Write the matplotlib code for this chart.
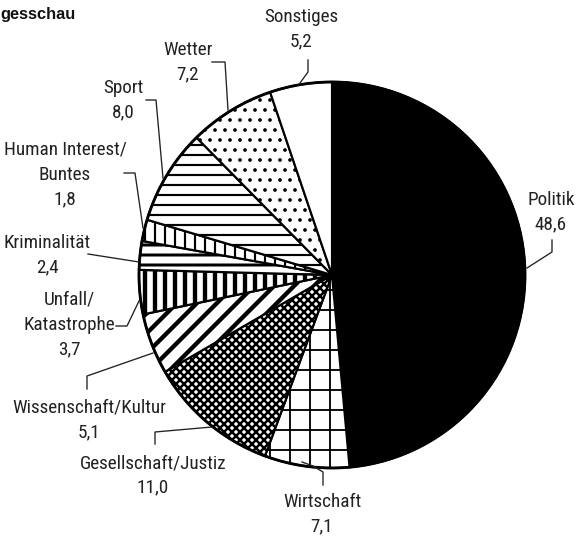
import matplotlib
matplotlib.use("Agg")
import matplotlib.pyplot as plt
from matplotlib import font_manager

# Themenanteile (Prozent), im Uhrzeigersinn ab 12 Uhr
themen = ["Politik", "Wirtschaft", "Gesellschaft/Justiz", "Wissenschaft/Kultur",
          "Unfall/\nKatastrophe", "Kriminalität", "Human Interest/\nBuntes",
          "Sport", "Wetter", "Sonstiges"]
anteile = [48.6, 7.1, 11.0, 5.1, 3.7, 2.4, 1.8, 8.0, 7.2, 5.2]
anteil_text = ["48,6", "7,1", "11,0", "5,1", "3,7", "2,4", "1,8", "8,0", "7,2", "5,2"]

# Muster je Segment (Farbe, Schraffur, Linienstärke der Schraffur)
muster = [("black", None, 1.0), ("white", "+", 1.1), ("white", "xxxxx", 1.5),
          ("white", "//", 2.6), ("white", "||", 2.6), ("white", "--", 1.8),
          ("white", "||", 1.3), ("white", "--", 1.3), ("white", "..", 1.0),
          ("white", None, 1.0)]

W, H = 576, 538
names = {f.name for f in font_manager.fontManager.ttflist}
narrow = [n for n in ["Liberation Sans Narrow", "DejaVu Sans Condensed",
                      "Roboto Condensed", "Open Sans Condensed"] if n in names]
if narrow:
    fam, fs = narrow[0], 11.5
else:
    fam, fs = "Liberation Sans", 10.3
plt.rcParams["font.family"] = [fam, "DejaVu Sans"]
plt.rcParams["hatch.color"] = "black"

fig = plt.figure(figsize=(W / 120, H / 120), dpi=120)
ax = fig.add_axes([0, 0, 1, 1])

def py(y):
    # Pixel-y (von oben) in Achsen-y
    return H - y

wedges, _ = ax.pie(anteile, startangle=90, counterclock=False,
                   center=(332, py(275)), radius=193,
                   wedgeprops=dict(edgecolor="black", linewidth=1.3))
for w, (fc, h, lw) in zip(wedges, muster):
    w.set_facecolor(fc)
    if h:
        w.set_hatch(h)
        try:
            w.set_hatch_linewidth(lw)
        except AttributeError:
            w._hatch_linewidth = lw

# äußerer Rand etwas kräftiger
ax.add_patch(plt.Circle((332, py(275)), 193, fill=False, ec="black", lw=1.7))

ax.set_xlim(0, W)
ax.set_ylim(0, H)
ax.set_aspect("equal")
ax.axis("off")

# Beschriftungen: Textmitte x, y der ersten Zeile (Pixel von oben)
label_pos = [(551, 200), (322, 502), (153, 463), (89, 408), (69, 300),
             (47, 243), (65, 150), (123, 88), (188, 50), (301, 17)]
# Hinweislinien in Pixeln
leader = [
    [(552, 240), (552, 252), (527, 268)],
    [(323, 485), (323, 472), (313, 466), (302, 462)],
    [(155, 444), (155, 432), (212, 427)],
    [(87, 389), (87, 376), (153, 353)],
    [(116, 326), (127, 326), (139, 301)],
    [(88, 254), (139, 262)],
    [(124, 173), (135, 173), (143, 228)],
    [(146, 100), (156, 100), (163, 178)],
    [(212, 62), (225, 62), (228, 110)],
    [(308, 60), (308, 72), (300, 83)],
]
step = 24.5
for name, val, (x, y) in zip(themen, anteil_text, label_pos):
    lines = name.split("\n") + [val]
    for i, t in enumerate(lines):
        ax.text(x, py(y + i * step), t, ha="center", va="center",
                fontsize=fs, color="#222222")
for pts in leader:
    ax.plot([p[0] for p in pts], [py(p[1]) for p in pts], color="#222222", lw=0.8)

ax.text(0, py(14), "gesschau", ha="left", va="center", fontsize=9.8,
        fontweight="bold", color="#111111", family=["Liberation Sans", "DejaVu Sans"])

fig.savefig("out.png", dpi=120)
